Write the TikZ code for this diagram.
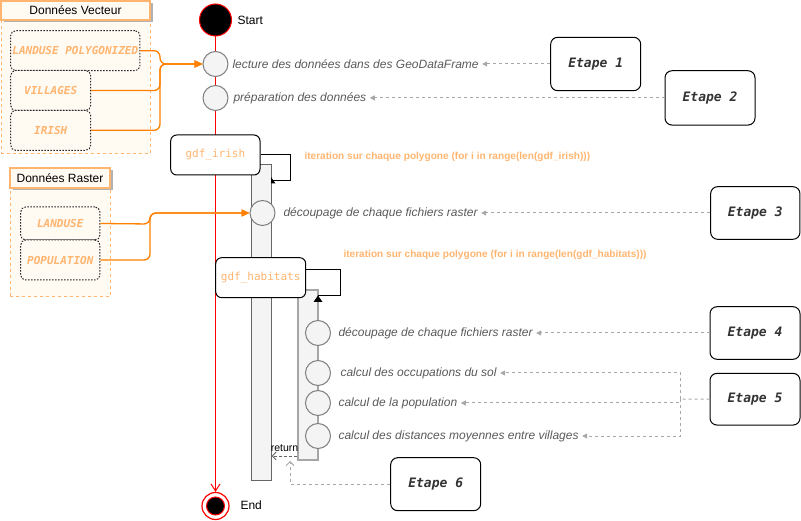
\documentclass[tikz,border=0pt]{standalone}
\usepackage{fontspec}
\setmainfont{Liberation Sans}
\newfontfamily\codefont{DejaVu Sans Mono}
\usetikzlibrary{arrows.meta,shadows,calc}
\definecolor{otxt}{HTML}{FFB570}
\definecolor{oline}{HTML}{FF8000}
\definecolor{lblgrey}{HTML}{5A5A5A}
\definecolor{dgrey}{HTML}{A8A8A8}
\definecolor{barfill}{HTML}{F4F4F4}
\definecolor{cfill}{HTML}{FFFAF2}
\tikzset{
  contbox/.style={draw=otxt, dash pattern=on 3pt off 3pt, fill=cfill, inner sep=0pt},
  hdrbox/.style={draw=otxt, line width=1.6pt, fill=cfill, inner sep=0pt,
     general shadow={fill=black!30, shadow xshift=2.5pt, shadow yshift=-2.5pt},
     font=\fontsize{12}{14}\selectfont},
  datbox/.style={draw=black!85, dash pattern=on 1.5pt off 1.5pt, rounded corners=5pt, fill=cfill, inner sep=0pt,
     text=otxt, font=\codefont\bfseries\itshape\fontsize{11}{13}\selectfont},
  actcirc/.style={circle, draw=gray, fill=barfill, minimum size=25pt, inner sep=0pt},
  lbl/.style={anchor=west, inner sep=3pt, text=lblgrey, font=\itshape\fontsize{12}{14}\selectfont},
  iterlbl/.style={anchor=west, inner sep=2pt, text=otxt, font=\bfseries\fontsize{10.1}{12}\selectfont},
  etape/.style={draw=black, rounded corners=7pt, inner sep=0pt, minimum width=90pt, minimum height=53pt,
     text=black!80, font=\codefont\bfseries\itshape\fontsize{13}{15}\selectfont},
  gdfbox/.style={draw=black, rounded corners=6pt, fill=white, inner sep=0pt, minimum width=90pt,
     minimum height=40pt, text=otxt, font=\codefont\fontsize{11}{13}\selectfont},
  barA/.style={draw=gray!80!black, fill=barfill, inner sep=0pt, minimum width=20pt},
  barB/.style={draw=gray!70, line width=1.5pt, fill=barfill, inner sep=0pt, minimum width=20pt},
  dasharr/.style={draw=dgrey, line width=1pt, dash pattern=on 3pt off 3pt, -{Triangle[length=5pt,width=5pt]}},
  oarr/.style={draw=oline, line width=1.3pt, rounded corners=6pt, -{Triangle[length=8pt,width=7pt]}},
  plain/.style={font=\fontsize{12}{14}\selectfont},
}
\begin{document}
\begin{tikzpicture}[x=1pt,y=-1pt,line width=1pt]
\useasboundingbox (0,0) rectangle (801,521);

% ---------- Donnees Vecteur ----------
\node[contbox, minimum width=149pt, minimum height=134pt] (vcont) at (75.5,87) {};
\node[hdrbox, minimum width=149pt, minimum height=19pt] (vhdr) at (75.5,10.5) {Données Vecteur};
\node[datbox, minimum width=129.3pt, minimum height=40pt] (lp) at (75.3,50.7) {LANDUSE POLYGONIZED};
\node[datbox, minimum width=80pt, minimum height=40pt] (vil) at (50.7,90.5) {VILLAGES};
\node[datbox, minimum width=80pt, minimum height=40pt] (iri) at (50.7,130.3) {IRISH};

% ---------- Donnees Raster ----------
\node[contbox, minimum width=100pt, minimum height=109pt] (rcont) at (60,242.5) {};
\node[hdrbox, minimum width=100pt, minimum height=20pt] (rhdr) at (60,178) {Données Raster};
\node[datbox, minimum width=79.3pt, minimum height=33pt] (lan) at (60.3,223.5) {LANDUSE};
\node[datbox, minimum width=79.3pt, minimum height=40pt] (pop) at (60.3,260) {POPULATION};

% ---------- Start / End ----------
\node[circle, draw=red, line width=1pt, fill=black, minimum size=32pt, inner sep=0pt] (start) at (215.5,20) {};
\node[plain, anchor=west, inner sep=0pt] (starttxt) at (237,20) {Start};
\node[circle, draw=red, line width=1.2pt, fill=white, minimum size=27pt, inner sep=0pt] (end) at (215.5,506) {};
\node[circle, draw=red, fill=black, minimum size=18pt, inner sep=0pt] (endin) at (end) {};
\node[plain, anchor=west, inner sep=0pt] (endtxt) at (240,505) {End};

% lifeline
\draw[red, line width=1pt, -{Straight Barb[length=7pt,width=9pt]}] (start) -- (end);

% ---------- activation bars ----------
\node[barA, minimum height=315pt] (bar1) at (261,322.5) {};
\node[barB, minimum height=170pt] (bar2) at (308,375) {};

% ---------- circles ----------
\node[actcirc] (c1) at (215.5,64) {};
\node[actcirc] (c2) at (215.5,98) {};
\node[actcirc] (c3) at (262.5,213) {};
\node[actcirc] (c4) at (318,333) {};
\node[actcirc] (c5) at (318,373) {};
\node[actcirc] (c6) at (318,403) {};
\node[actcirc] (c7) at (318,436) {};

% ---------- gdf boxes and loops ----------
\fill[black] (271,183.5) -- (275.5,183.5) -- (271,177) -- cycle;
\node[gdfbox, minimum width=89.3pt] (gdf1) at (215.35,155) {gdf\_irish};
\draw[black] (gdf1.east) -- (290,155) |- (271,181);
\node[gdfbox] (gdf2) at (260.7,277.7) {gdf\_habitats};
\draw[black] ([yshift=7.7pt]gdf2.east) -- (340,270) |- (318,296);
\fill[black] (313.5,302) -- (322.5,302) -- (318,295.5) -- cycle;

\node[iterlbl] (it1) at (302,157) {iteration sur chaque polygone (for i in range(len(gdf\_irish)))};
\node[iterlbl] (it2) at (341,255) {iteration sur chaque polygone (for i in range(len(gdf\_habitats)))};

% ---------- labels ----------
\node[lbl] (l1) at (229,64) {lecture des données dans des GeoDataFrame};
\node[lbl] (l2) at (230,98) {préparation des données};
\node[lbl] (l3) at (280,213) {découpage de chaque fichiers raster};
\node[lbl] (l4) at (335,333) {découpage de chaque fichiers raster};
\node[lbl] (l5) at (337,373) {calcul des occupations du sol};
\node[lbl] (l6) at (335,403) {calcul de la population};
\node[lbl] (l7) at (335,436) {calcul des distances moyennes entre villages};

% ---------- etapes ----------
\node[etape, minimum height=53.4pt] (e1) at (595.7,64) {Etape 1};
\node[etape, minimum height=54.3pt] (e2) at (710,97.9) {Etape 2};
\node[etape, minimum width=89.3pt, minimum height=52.6pt] (e3) at (755.3,213) {Etape 3};
\node[etape, minimum height=52.6pt] (e4) at (755,333) {Etape 4};
\node[etape, minimum height=51.7pt] (e5) at (755,399.2) {Etape 5};
\node[etape, minimum height=53pt] (e6) at (435.7,484.2) {Etape 6};

\draw[dasharr] (e1.west) -- (l1.east |- e1.west);
\draw[dasharr] (e2.west) -- (l2.east |- e2.west);
\draw[dasharr] (e3.west) -- (l3.east |- e3.west);
\draw[dasharr] (e4.west) -- (l4.east |- e4.west);
\coordinate (j5) at (680.5,399);
\draw[draw=dgrey, dash pattern=on 3pt off 3pt] (e5.west) -- (j5);
\draw[dasharr] (j5) |- (l5.east);
\draw[dasharr] (j5) |- (l6.east);
\draw[dasharr] (j5) |- (l7.east);
\coordinate (t6) at (290,461);
\draw[draw=dgrey, dash pattern=on 3pt off 3pt, -{Straight Barb[length=4pt,width=8pt]}] (e6.west) -| (t6);

% return
\coordinate (rety) at (0,456);
\draw[draw=gray!80!black, dash pattern=on 3pt off 2pt, -{Straight Barb[length=4pt,width=8pt]}] (bar2.west |- rety) -- (bar1.east |- rety);
\node[inner sep=0pt, font=\fontsize{10.5}{12}\selectfont] (ret) at (284.5,448) {return};

% ---------- orange inputs ----------
\draw[oarr] (lp.east) -- (160,50.7) |- (c1.west);
\draw[oarr] (vil.east) -- (160,90.5) |- (c1.west);
\draw[oarr] (iri.east) -- (160,130.3) |- (c1.west);
\draw[oarr] (lan.east) -- (150,224) |- (c3.west);
\draw[oarr] (pop.east) -- (150,260) |- (c3.west);
\end{tikzpicture}
\end{document}
